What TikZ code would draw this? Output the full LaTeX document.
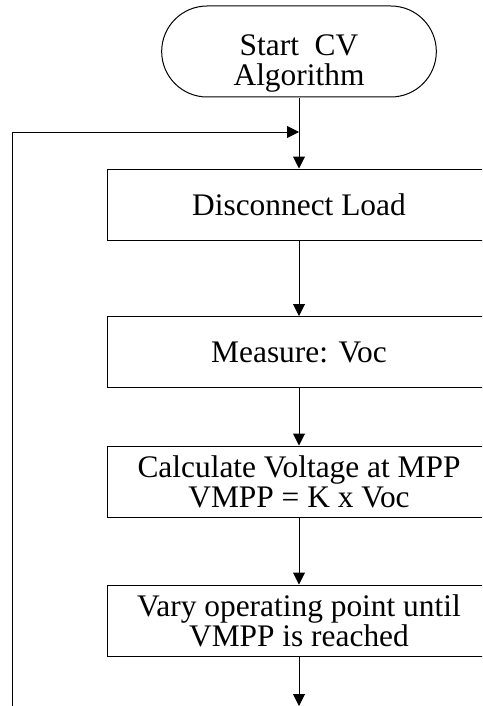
\documentclass[tikz,border=0pt]{standalone}
\usepackage{fontspec}
\setmainfont{Liberation Serif}
\usetikzlibrary{shapes.misc,arrows.meta}
\begin{document}
\begin{tikzpicture}[x=0.5pt,y=-0.5pt,
  every node/.style={font=\fontsize{15.7}{15}\selectfont,align=center},
  procbox/.style={draw,line width=0.5pt,minimum width=192pt,minimum height=35.5pt,inner sep=0pt},
  flow/.style={line width=0.5pt,-{Triangle[length=6pt,width=6pt]}}]
\clip (0,0) rectangle (482,706);
\node[draw,line width=0.5pt,rounded rectangle,minimum width=144pt,minimum height=45.5pt] (start) at (299,51.5) {};
\node (starttext) at (299,63) {Start\ \ CV\\Algorithm};
\node[procbox] (disc) at (299,204.5) {Disconnect Load};
\node[procbox] (meas) at (299,352) {Measure: Voc};
\node[procbox] (calc) at (299,481.5) {Calculate Voltage at MPP\\VMPP = K x Voc};
\node[procbox] (vary) at (299,620.5) {Vary operating point until\\VMPP is reached};
\coordinate (join) at (299,132);
\coordinate (loopin) at (12,706);
\coordinate (out) at (299,706);
\draw[flow] (start) -- (disc);
\draw[flow] (disc) -- (meas);
\draw[flow] (meas) -- (calc);
\draw[flow] (calc) -- (vary);
\draw[flow] (vary) -- (out);
\draw[flow] (loopin) |- (join);
%\draw[flow] (out) -- ++(0,20);
\end{tikzpicture}
\end{document}
